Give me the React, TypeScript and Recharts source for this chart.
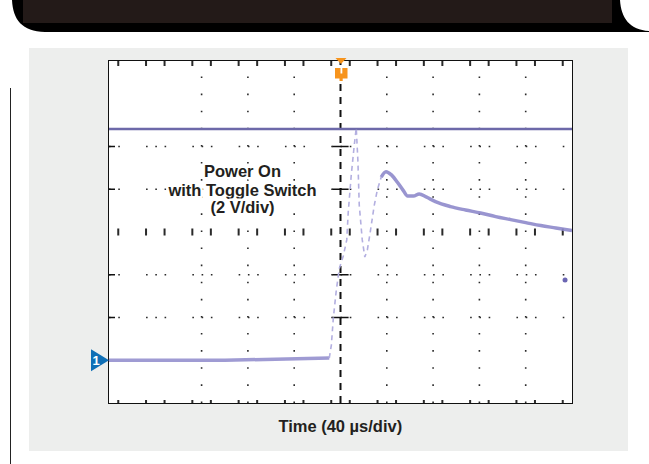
import { LineChart, Line, XAxis, YAxis, ReferenceLine, ReferenceDot } from "recharts";

// scope screen: 10 div x 40 us, 8 div x 2 V, ground one division above the bottom
const timeDomain = [-200, 200];
const voltDomain = [-2, 14];

// channel 1 before the switch closes
const groundTime = [-200, -100, -9.7];
const groundVolts = [0, 0, 0.1];

// fast edge and ringing (faint on the screen)
const edgeTime = [-9.7, -7.9, -6.2, -3.6, -1.0, 2.4, 5.4, 6.7, 9.3, 11.9, 13.6, 15.0, 16.2, 18.8, 21.0, 23.2, 25.7, 29.2, 31.8, 35.2];
const edgeVolts = [0.1, 0.71, 1.97, 3.29, 4.3, 4.88, 5.63, 6.94, 8.67, 10.07, 10.87, 9.37, 7.26, 5.63, 4.83, 5.16, 6.0, 7.26, 7.96, 8.57];

// overshoot and slow decay
const settleTime = [35.2, 39.3, 44, 49, 54, 58, 63, 68, 74, 82, 95, 108, 121, 134, 147, 160, 173, 186, 200];
const settleVolts = [8.57, 8.82, 8.67, 8.34, 7.96, 7.68, 7.68, 7.78, 7.64, 7.42, 7.19, 7.03, 6.89, 6.72, 6.58, 6.44, 6.3, 6.19, 6.07];

// flat reference trace near the top
const railTime = [-200, 200];
const railVolts = [10.82, 10.82];

// graticule
const gridColumns = [-120, -80, -40, 40, 80, 120, 160];
const gridRows = [10, 8, 4, 2];
const centerRow = 6;
const topEdge = 13.88;
const bottomEdge = -1.93;

const annotation = ["Power On", "with Toggle Switch", "(2 V/div)"];
const xTitle = "Time (40 µs/div)";

const toPoints = (ts: number[], vs: number[]) => ts.map((t, i) => ({ t, v: vs[i] }));

const TRACE = "#8e89cb";
const GRID = "#2a2a2a";
const TICKS = "0 8.26 2 25.78 2 8.26";
const DOTS = "1.6 7.66 1.6 26.18 1.6 7.66";

const ChannelMarker = (props: any) => {
  const { cx, cy } = props;
  return (
    <g>
      <path d={`M${cx - 18},${cy - 11} L${cx},${cy} L${cx - 18},${cy + 11} Z`} fill="#0f6fb6" />
      <text x={cx - 13} y={cy + 5} fill="#fff" fontSize={13} fontWeight="bold" textAnchor="middle" fontFamily="Liberation Sans, Arial, sans-serif">
        1
      </text>
    </g>
  );
};

const TriggerMarker = (props: any) => {
  const { cx, cy } = props;
  const c = "#f7941d";
  return (
    <g>
      <path d={`M${cx - 5},${cy - 3} L${cx + 6},${cy - 3} L${cx + 0.5},${cy + 3} Z`} fill={c} />
      <rect x={cx - 5.5} y={cy + 7} width={12.5} height={10.5} fill={c} />
      <rect x={cx} y={cy + 7} width={1.8} height={5.5} fill="#fff" />
      <rect x={cx - 1} y={cy + 17} width={3.2} height={3} fill={c} />
    </g>
  );
};

export default function App() {
  return (
    <div style={{ position: "absolute", left: 0, top: 0, width: 649, height: 464, background: "#fff", overflow: "hidden" }}>
      <div style={{ position: "absolute", left: 29, top: 48, width: 599, height: 403, background: "#edeeed" }} />
      <div style={{ position: "absolute", left: 10, top: 88, width: 1.2, height: 376, background: "#222" }} />
      <div
        style={{
          position: "absolute",
          left: 108,
          top: 60,
          width: 465,
          height: 344,
          boxSizing: "border-box",
          border: "1.6px solid #111",
          background: "#fff",
        }}
      />
      <div style={{ position: "absolute", left: 0, top: 0 }}>
        <LineChart width={649} height={464} margin={{ top: 61, right: 77, bottom: 61, left: 109 }}>
          <XAxis dataKey="t" type="number" domain={timeDomain} hide allowDataOverflow />
          <YAxis type="number" domain={voltDomain} hide allowDataOverflow />

          {gridColumns.map((t) => (
            <ReferenceLine key={`c${t}`} x={t} stroke={GRID} strokeWidth={1.6} strokeDasharray="1.6 15.5" />
          ))}
          {gridRows.map((v) => (
            <ReferenceLine key={`r${v}`} y={v} stroke={GRID} strokeWidth={1.6} strokeDasharray={DOTS} />
          ))}
          <ReferenceLine y={centerRow} stroke={GRID} strokeWidth={7} strokeDasharray={TICKS} />
          <ReferenceLine y={topEdge} stroke={GRID} strokeWidth={5} strokeDasharray={TICKS} />
          <ReferenceLine y={bottomEdge} stroke={GRID} strokeWidth={3} strokeDasharray={TICKS} />
          {gridRows.map((v) => (
            <ReferenceLine key={`l${v}`} segment={[{ x: -200, y: v }, { x: -194.8, y: v }]} stroke="#111" strokeWidth={1.5} />
          ))}
          {gridRows.map((v) => (
            <ReferenceLine key={`x${v}`} segment={[{ x: -7, y: v }, { x: 7, y: v }]} stroke="#111" strokeWidth={1.5} />
          ))}
          <ReferenceLine x={0} stroke="#111" strokeWidth={2} strokeDasharray="7 6" />

          <Line data={toPoints(railTime, railVolts)} dataKey="v" type="linear" stroke="#6d69a9" strokeWidth={2.5} dot={false} isAnimationActive={false} />
          <Line data={toPoints(groundTime, groundVolts)} dataKey="v" type="linear" stroke={TRACE} strokeWidth={3.5} strokeOpacity={0.85} dot={false} isAnimationActive={false} />
          <Line
            data={toPoints(edgeTime, edgeVolts)}
            dataKey="v"
            type="linear"
            stroke="#b3afe0"
            strokeWidth={1.6}
            strokeDasharray="5 4"
            dot={false}
            isAnimationActive={false}
          />
          <Line data={toPoints(settleTime, settleVolts)} dataKey="v" type="monotone" stroke={TRACE} strokeWidth={3.5} strokeOpacity={0.9} dot={false} isAnimationActive={false} />

          <ReferenceDot x={194} y={3.75} r={2.5} fill="#6b66b3" stroke="none" />
          <ReferenceDot x={-200} y={0} r={0} shape={ChannelMarker} />
          <ReferenceDot x={0} y={14} r={0} shape={TriggerMarker} />
        </LineChart>
      </div>
      <svg width={649} height={464} style={{ position: "absolute", left: 0, top: 0, pointerEvents: "none" }}>
        <path d="M12,0 L620,0 C621,18 630,30 649,31 L649,32 L45,32 C22,31 13,20 12,0 Z" fill="#000" />
        <rect x={23} y={0} width={589} height={23} fill="#231a18" />
        <g fontFamily="Liberation Sans, Arial, sans-serif" fontWeight="bold" fontSize={16.5} fill="#231f20" textAnchor="middle">
          <g stroke="#fff" strokeWidth={5} strokeLinejoin="round" style={{ paintOrder: "stroke" }}>
            <text x={242.5} y={176.7}>{annotation[0]}</text>
            <text x={242.5} y={195.7}>{annotation[1]}</text>
            <text x={242.5} y={213}>{annotation[2]}</text>
          </g>
          <text x={340.3} y={431.5}>{xTitle}</text>
        </g>
      </svg>
    </div>
  );
}
